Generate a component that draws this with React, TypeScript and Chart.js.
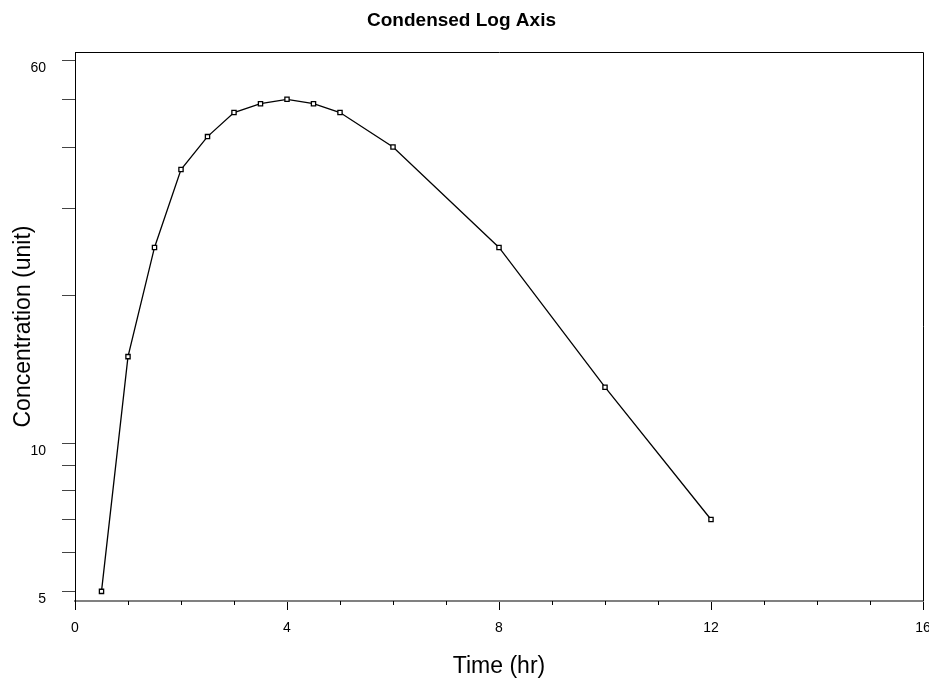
import React, { useEffect, useRef } from 'react';
import { Chart, registerables } from 'chart.js';

Chart.register(...registerables);

const TITLE = 'Condensed Log Axis';
const X_TITLE = 'Time (hr)';
const Y_TITLE = 'Concentration (unit)';

const TIMES = [0.5, 1, 1.5, 2, 2.5, 3, 3.5, 4, 4.5, 5, 6, 8, 10, 12];
const CONC = [5, 15, 25, 36, 42, 47, 49, 50, 49, 47, 40, 25, 13, 7];

const X_MAJOR_TICKS = [0, 4, 8, 12, 16];
const X_MINOR_TICKS = [1, 2, 3, 5, 6, 7, 9, 10, 11, 13, 14, 15];
const Y_TICKS = [5, 6, 7, 8, 9, 10, 20, 30, 40, 50, 60];
const Y_LABELED = [5, 10, 60];

const framePlugin = {
  id: 'frame',
  afterDraw(chart: any) {
    const { ctx, chartArea, scales } = chart;
    const { left, top, right, bottom } = chartArea;
    const x = scales.x;
    ctx.save();
    ctx.strokeStyle = '#000';
    ctx.lineWidth = 1;
    ctx.beginPath();
    ctx.moveTo(Math.round(left) + 0.5, Math.round(top) + 0.5);
    ctx.lineTo(Math.round(right) + 0.5, Math.round(top) + 0.5);
    ctx.lineTo(Math.round(right) + 0.5, Math.round(bottom));
    ctx.stroke();
    ctx.beginPath();
    X_MINOR_TICKS.forEach((v) => {
      const px = Math.round(x.getPixelForValue(v)) + 0.5;
      ctx.moveTo(px, x.top);
      ctx.lineTo(px, x.top + 4);
    });
    ctx.stroke();
    ctx.restore();
  },
};

export default function App() {
  const ref = useRef<HTMLCanvasElement>(null);

  useEffect(() => {
    document.body.style.margin = '0';
    Chart.defaults.font.family = "'Liberation Sans', Arial, sans-serif";
    Chart.defaults.color = '#000';
    const chart = new Chart(ref.current as HTMLCanvasElement, {
      type: 'line',
      data: {
        datasets: [
          {
            data: TIMES.map((t, i) => ({ x: t, y: CONC[i] })),
            borderColor: '#000',
            borderWidth: 1.3,
            tension: 0,
            pointStyle: 'rect',
            pointRadius: 3,
            pointBackgroundColor: '#fff',
            pointBorderColor: '#000',
            pointBorderWidth: 1.3,
          },
        ],
      },
      options: {
        animation: false,
        responsive: false,
        devicePixelRatio: 1,
        layout: { padding: { left: 0, top: 0, right: 6, bottom: 0 } },
        plugins: {
          legend: { display: false },
          tooltip: { enabled: false },
          title: {
            display: true,
            text: TITLE,
            color: '#000',
            font: { size: 19, weight: 'bold' },
            padding: { top: 9, bottom: 20.2 },
          },
        },
        scales: {
          x: {
            type: 'linear',
            position: 'bottom',
            min: 0,
            max: 16,
            afterBuildTicks: (s: any) => {
              s.ticks = X_MAJOR_TICKS.map((value) => ({ value }));
            },
            afterFit: (s: any) => {
              s.height = 78;
              s.paddingLeft = 0;
              s.paddingRight = 0;
            },
            grid: {
              drawOnChartArea: false,
              drawTicks: true,
              tickLength: 9,
              color: '#000',
              lineWidth: 1,
            },
            border: { display: true, color: '#808080', width: 2 },
            ticks: {
              font: { size: 14 },
              color: '#000',
              padding: 9.5,
              maxRotation: 0,
              autoSkip: false,
            },
            title: {
              display: true,
              text: X_TITLE,
              color: '#000',
              font: { size: 23 },
              padding: { top: 0, bottom: -1.5 },
            },
          },
          y: {
            type: 'logarithmic',
            position: 'left',
            min: 4.78,
            max: 62.4,
            afterBuildTicks: (s: any) => {
              s.ticks = Y_TICKS.map((value) => ({ value }));
            },
            afterFit: (s: any) => {
              s.width = 75;
              s.paddingTop = 0;
              s.paddingBottom = 0;
            },
            grid: {
              drawOnChartArea: false,
              drawTicks: true,
              tickLength: 13,
              color: '#444',
              lineWidth: 1,
            },
            border: { display: true, color: '#000', width: 1 },
            ticks: {
              font: { size: 14 },
              color: '#000',
              padding: 16,
              labelOffset: 7.5,
              autoSkip: false,
              callback: (v: any) => (Y_LABELED.includes(Number(v)) ? String(v) : ''),
            },
            title: {
              display: true,
              text: Y_TITLE,
              color: '#000',
              font: { size: 23 },
              padding: { top: 10, bottom: 0 },
            },
          },
        },
      },
      plugins: [framePlugin],
    } as any);
    return () => chart.destroy();
  }, []);

  return (
    <div style={{ position: 'absolute', left: 0, top: 0, width: 929, height: 679 }}>
      <canvas ref={ref} width={929} height={679} />
    </div>
  );
}
